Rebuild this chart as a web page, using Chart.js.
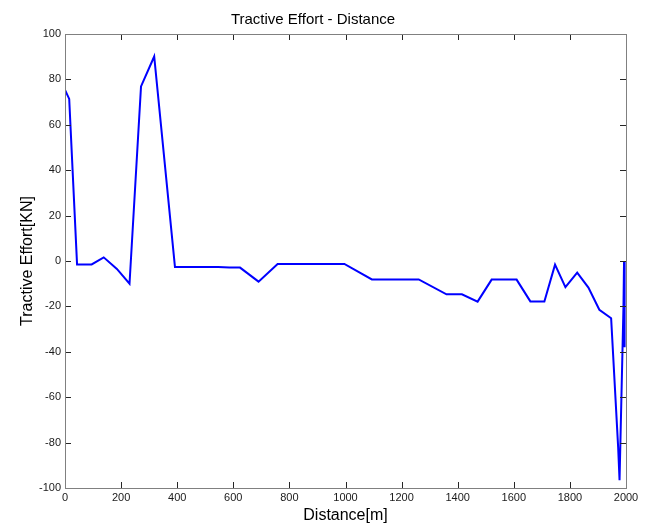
<!DOCTYPE html>
<html>
<head>
<meta charset="utf-8">
<script src="https://cdn.jsdelivr.net/npm/chart.js@4/dist/chart.umd.min.js"></script>
<style>
  html, body { margin: 0; padding: 0; background: #fff; }
  #wrap { width: 648px; height: 527px; }
</style>
</head>
<body>
<div id="wrap"><canvas id="myChart"></canvas></div>
<script>
// distance [m] and tractive effort [KN]
var distance = [0, 15, 43, 95, 138, 185, 230, 271, 318, 392, 546, 586, 624, 690, 758, 996, 1094, 1261, 1360, 1415, 1471, 1521, 1610, 1659, 1709, 1747, 1784, 1826, 1866, 1905, 1947, 1972, 1977, 1991, 1993, 1995];
var effort   = [75.4, 71.4, -1.5, -1.5, 1.6, -3.5, -10, 76.9, 90.1, -2.6, -2.6, -2.9, -2.9, -9.1, -1.3, -1.3, -8.1, -8.1, -14.7, -14.7, -17.9, -8.2, -8.2, -17.8, -17.8, -1.6, -11.5, -5.1, -11.7, -21.5, -25.2, -82, -96.6, -20, 0, -38];
var xTicks = [0, 200, 400, 600, 800, 1000, 1200, 1400, 1600, 1800, 2000];
var yTicks = [-100, -80, -60, -40, -20, 0, 20, 40, 60, 80, 100];

var ctx = document.getElementById('myChart');
var pts = [];
for (var i = 0; i < distance.length; i++) {
    pts.push({x: distance[i], y: effort[i]});
}

var FONT = 'Arial, "Liberation Sans", sans-serif';

// matlab style box with inward ticks
var boxTicks = {
    id: 'boxTicks',
    afterDraw: function(chart){
        var c = chart.ctx, a = chart.chartArea;
        var xs = chart.scales.x, ys = chart.scales.y;
        c.save();
        c.strokeStyle = '#262626';
        c.lineWidth = 1;
        c.beginPath();
        xTicks.forEach(function(v){
            var px = Math.round(xs.getPixelForValue(v)) + 0.5;
            c.moveTo(px, a.bottom); c.lineTo(px, a.bottom - 6);
            c.moveTo(px, a.top); c.lineTo(px, a.top + 6);
        });
        yTicks.forEach(function(v){
            var py = Math.round(ys.getPixelForValue(v)) + 0.5;
            c.moveTo(a.left, py); c.lineTo(a.left + 6, py);
            c.moveTo(a.right, py); c.lineTo(a.right - 6, py);
        });
        c.stroke();
        c.strokeStyle = '#808080';
        c.strokeRect(Math.round(a.left) + 0.5, Math.round(a.top) + 0.5, Math.round(a.right - a.left), Math.round(a.bottom - a.top));
        c.restore();
    }
};

var myChart = new Chart(ctx, {
    type: 'line',
    data: {
        datasets: [{
            data: pts,
            borderColor: '#0000ff',
            borderWidth: 2,
            pointRadius: 0,
            tension: 0,
            fill: false
        }]
    },
    options: {
        responsive: true,
        maintainAspectRatio: false,
        animation: false,
        layout: { padding: { top: 0, right: 22, bottom: 0, left: 0 } },
        plugins: {
            legend: { display: false },
            tooltip: { enabled: false },
            title: {
                display: true,
                text: 'Tractive Effort - Distance',
                color: '#000',
                font: { family: FONT, size: 15, weight: 'normal' },
                padding: { top: 11, bottom: 5 }
            }
        },
        scales: {
            x: {
                type: 'linear',
                min: 0, max: 2000,
                afterBuildTicks: function(s){ s.ticks = xTicks.map(function(v){ return {value: v}; }); },
                afterFit: function(s){ s.height = 39; },
                grid: { display: false, drawTicks: false },
                border: { display: false },
                ticks: { color: '#1a1a1a', font: { family: FONT, size: 11 }, padding: 3, maxRotation: 0,
                         callback: function(v){ return String(v); } },
                title: { display: true, text: 'Distance[m]', color: '#000', font: { family: FONT, size: 16 }, padding: { top: 0, bottom: 2 } }
            },
            y: {
                min: -100, max: 100,
                afterBuildTicks: function(s){ s.ticks = yTicks.map(function(v){ return {value: v}; }); },
                afterFit: function(s){ s.width = 65; },
                grid: { display: false, drawTicks: false },
                border: { display: false },
                ticks: { color: '#1a1a1a', font: { family: FONT, size: 11 }, padding: 4 },
                title: { display: true, text: 'Tractive Effort[KN]', color: '#000', font: { family: FONT, size: 16 }, padding: { top: 18, bottom: 0 } }
            }
        }
    },
    plugins: [boxTicks]
});
</script>
</body>
</html>
